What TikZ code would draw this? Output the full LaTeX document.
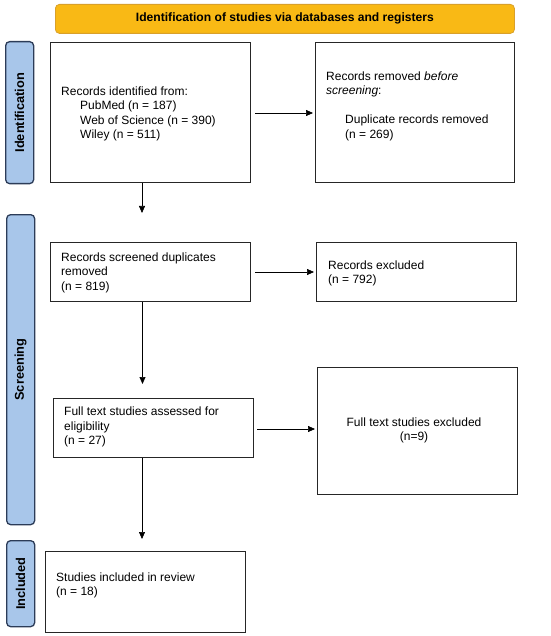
\documentclass[tikz,border=0pt]{standalone}
\usepackage{fontspec}
\setmainfont{Liberation Sans}
\usetikzlibrary{arrows.meta,calc}
\definecolor{bannerfill}{HTML}{F9B915}
\definecolor{bannerdraw}{HTML}{D9A02A}
\definecolor{sidefill}{HTML}{A8C6EA}
\definecolor{sidedraw}{HTML}{2C3C58}
\begin{document}
\begin{tikzpicture}[x=1pt,y=-1pt,
  box/.style={draw=black!85,line width=1.2pt,inner sep=0pt,anchor=north west},
  txt/.style={inner sep=0pt,align=left,anchor=west,font=\fontsize{12}{14.5}\selectfont},
  ctxt/.style={inner sep=0pt,align=center,font=\fontsize{12}{14.5}\selectfont},
  side/.style={draw=sidedraw,fill=sidefill,line width=1.3pt,rounded corners=4pt,inner sep=0pt,anchor=north west},
  sidetxt/.style={rotate=90,font=\bfseries\fontsize{12.8}{14}\selectfont,inner sep=0pt},
  arr/.style={line width=0.7pt,-{Triangle[length=7pt,width=6pt]}}
]
\useasboundingbox (0,0) rectangle (550,636);
% banner
\node[draw=bannerdraw,fill=bannerfill,line width=0.8pt,rounded corners=4pt,inner sep=0pt,anchor=north west,
  minimum width=459pt,minimum height=29pt] (banner) at (55,4) {};
\node[font=\bfseries\fontsize{12.1}{13}\selectfont,inner sep=0pt] (bannertxt) at (banner.center) {Identification of studies via databases and registers};
% side labels
\node[side,minimum width=28pt,minimum height=142pt] (sid) at (5,41) {};
\node[sidetxt] (sidt) at (sid.center) {Identification};
\node[side,minimum width=28pt,minimum height=310pt] (sscr) at (6,214) {};
\node[sidetxt] (sscrt) at (sscr.center) {Screening};
\node[side,minimum width=28pt,minimum height=86pt] (sinc) at (6,540) {};
\node[sidetxt] (sinct) at (sinc.center) {Included};
% boxes
\node[box,minimum width=200pt,minimum height=140pt] (b1) at (50,42) {};
\node[box,minimum width=199pt,minimum height=140pt] (b2) at (315,42) {};
\node[box,minimum width=200pt,minimum height=59pt] (b3) at (50,242) {};
\node[box,minimum width=200pt,minimum height=59pt] (b4) at (316,242) {};
\node[box,minimum width=200pt,minimum height=59pt] (b5) at (53,398) {};
\node[box,minimum width=200pt,minimum height=127pt] (b6) at (317,367) {};
\node[box,minimum width=200pt,minimum height=81pt] (b7) at (45,551) {};
% texts
\node[txt] (t1) at (61,114) {Records identified from:\\\hspace*{19pt}PubMed (n = 187)\\\hspace*{19pt}Web of Science (n = 390)\\\hspace*{19pt}Wiley (n = 511)};
\node[txt] (t2) at (326,106) {Records removed \textit{before}\\\textit{screening}:\\[14.5pt]\hspace*{19pt}Duplicate records removed\\\hspace*{19pt}(n = 269)};
\node[txt] (t3) at (61,272.5) {Records screened duplicates\\removed\\(n = 819)};
\node[txt] (t4) at (328,273.5) {Records excluded\\(n = 792)};
\node[txt] (t5) at (64,427) {Full text studies assessed for\\eligibility\\(n = 27)};
\node[ctxt] (t6) at (414,430.5) {Full text studies excluded\\(n=9)};
\node[txt] (t7) at (56,585.5) {Studies included in review\\(n = 18)};
% free ends of vertical arrows
\coordinate (e1) at (142,213);
\coordinate (e3) at (142.5,384);
\coordinate (e5) at (142,539);
% connectors
\draw[arr,shorten <=4pt,shorten >=2pt] (b1.east |- 0,113) -- (b2.west |- 0,113);
\draw[arr,shorten <=4pt,shorten >=2pt] (b3.east |- 0,272) -- (b4.west |- 0,272);
\draw[arr,shorten <=3pt,shorten >=2pt] (b5.east |- 0,429) -- (b6.west |- 0,429);
\draw[arr] (b1.south -| e1) -- (e1);
\draw[arr] (b3.south -| e3) -- (e3);
\draw[arr] (b5.south -| e5) -- (e5);
\end{tikzpicture}
\end{document}
